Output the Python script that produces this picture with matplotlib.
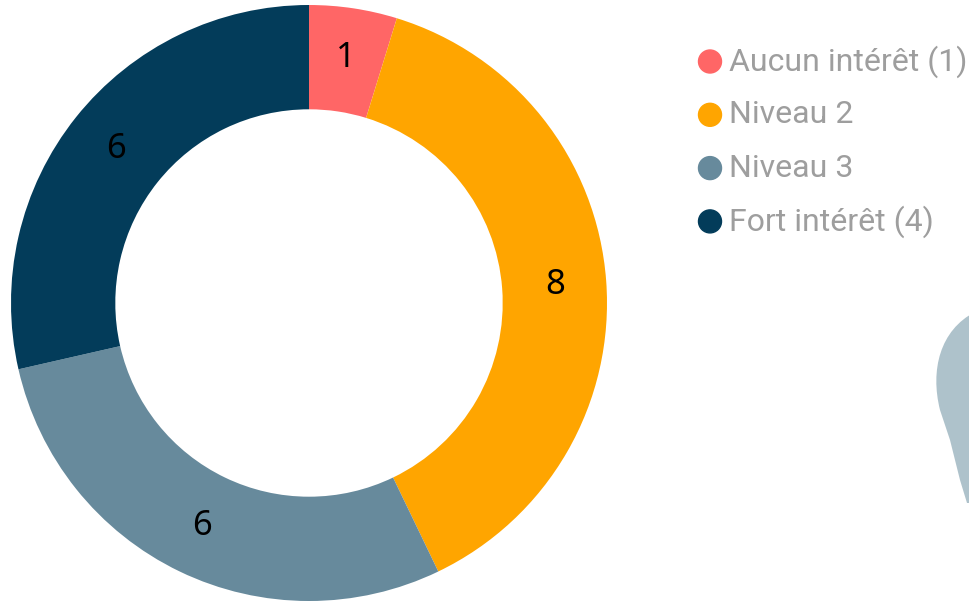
import numpy as np
import matplotlib.pyplot as plt
from matplotlib.path import Path
from matplotlib.patches import PathPatch, Ellipse

labels = ["Aucun intérêt (1)", "Niveau 2", "Niveau 3", "Fort intérêt (4)"]
values = [1, 8, 6, 6]
colors = ["#FF6666", "#FFA500", "#678A9C", "#033C5A"]

W, H = 969, 601
fig = plt.figure(figsize=(W / 100, H / 100), dpi=100)

# donut: centre (309, 303) px from top-left, outer radius 298 px
cx, cy, R = 309, 303, 298
ax = fig.add_axes([(cx - R) / W, (H - cy - R) / H, 2 * R / W, 2 * R / H])
wedges, _ = ax.pie(values, colors=colors, startangle=90, counterclock=False,
                   radius=1, wedgeprops=dict(width=0.35, linewidth=0))
ax.set_xlim(-1, 1)
ax.set_ylim(-1, 1)
ax.set_aspect("equal")
ax.axis("off")

total = sum(values)
start = 90.0
for v in values:
    mid = np.deg2rad(start - 360 * v / total / 2)
    ax.text(0.83 * np.cos(mid), 0.83 * np.sin(mid), str(v),
            ha="center", va="center", fontsize=25, color="black",
            family="Noto Sans")
    start -= 360 * v / total

# legend
lx, ly0, dy = 710, 61.5, 53.3
for i, (lab, col) in enumerate(zip(labels, colors)):
    y = ly0 + i * dy
    fig.patches.append(Ellipse((lx / W, 1 - y / H), 23 / W, 23 / H,
                               transform=fig.transFigure, color=col,
                               figure=fig))
    fig.text(729 / W, 1 - y / H, lab, ha="left", va="center",
             fontsize=23, color="#9E9E9E", family="Roboto")

# decorative shape cut off at the right edge
verts = [(975, 312), (940, 330), (930, 370), (940, 410),
         (950, 440), (960, 480), (967, 503),
         (975, 503), (975, 312)]
codes = [Path.MOVETO, Path.CURVE4, Path.CURVE4, Path.CURVE4,
         Path.LINETO, Path.LINETO, Path.LINETO,
         Path.LINETO, Path.CLOSEPOLY]
verts = [(x / W, 1 - y / H) for x, y in verts]
fig.patches.append(PathPatch(Path(verts, codes), transform=fig.transFigure,
                             facecolor="#AEC2CB", edgecolor="none", figure=fig))

fig.savefig("out.png", dpi=100)
